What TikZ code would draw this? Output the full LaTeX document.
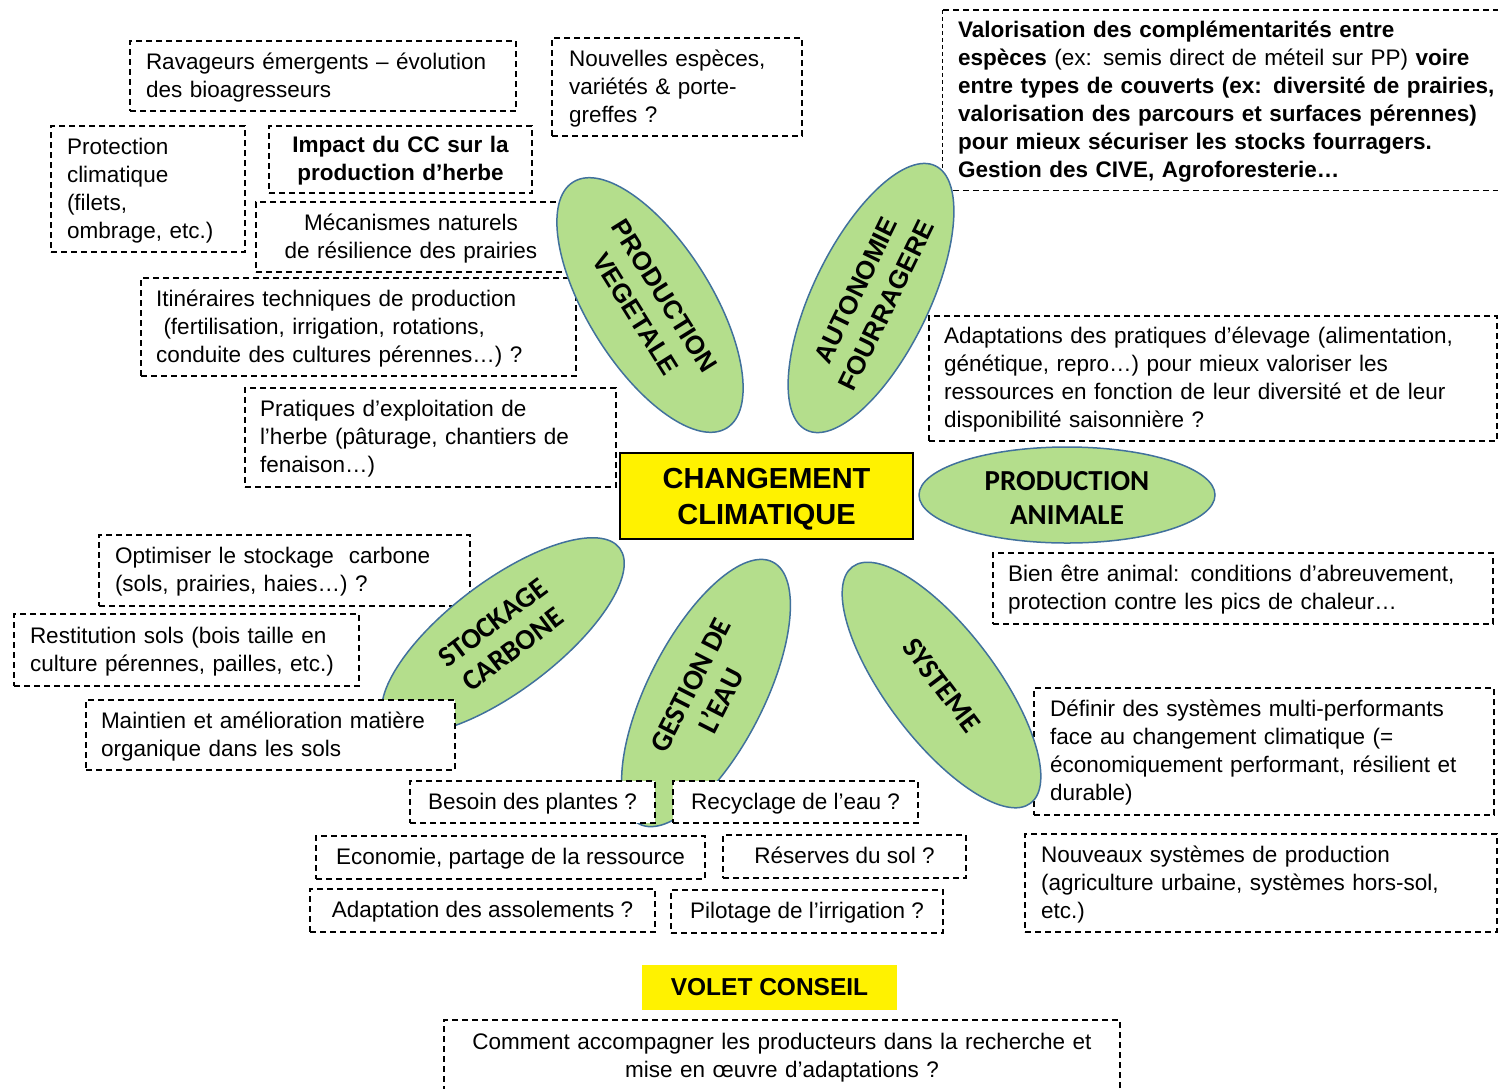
\documentclass[tikz,border=0pt]{standalone}
\usepackage{fontspec}
\setmainfont{Liberation Sans}
\newfontfamily\calfont{Carlito}
\usetikzlibrary{shapes.geometric}
\definecolor{leaf}{RGB}{180,222,140}
\definecolor{rim}{RGB}{65,113,156}
\newcommand\lne[1]{\mbox{#1}}
\tikzset{
 txt/.style={font=\fontsize{22.5}{28}\selectfont},
 struts/.style={execute at begin node={\rule{0pt}{21pt}}, execute at end node={\rule[-7pt]{0pt}{0pt}}},
 dline/.style={draw=black, line width=1.4pt, dash pattern=on 6pt off 4pt},
 dbox/.style={dline, fill=white, inner ysep=0pt, txt, struts},
 lbox/.style={dbox, align=left},
 cbox/.style={dbox, align=center},
 petal/.style={ellipse, draw=rim, line width=1.5pt, fill=leaf, inner sep=0pt, align=center},
 arialpetal/.style={petal, font=\bfseries\fontsize{26}{34}\selectfont},
 calpetal/.style={petal, font=\calfont\bfseries\fontsize{29}{34}\selectfont},
}
\begin{document}
\begin{tikzpicture}[x=1pt,y=-1pt]
\useasboundingbox (0,0) rectangle (1498,1088);

% boxes under the petals
\node[lbox, minimum width=386pt, minimum height=70pt, text width=354pt, inner xsep=16pt] (rav) at (323,76)
 {\lne{Ravageurs émergents – évolution}\\\lne{des bioagresseurs}};
\node[lbox, minimum width=250pt, minimum height=98pt, text width=216pt, inner xsep=17pt] (nouv) at (677,87)
 {\lne{Nouvelles espèces,}\\\lne{variétés \& porte-}\\\lne{greffes ?}};
\node[lbox, minimum width=194pt, minimum height=126pt, text width=162pt, inner xsep=16pt] (prot) at (148,189)
 {\lne{Protection}\\\lne{climatique}\\\lne{(filets,}\\\lne{ombrage, etc.)}};
\node[cbox, minimum width=263pt, minimum height=67pt, text width=253pt, inner xsep=5pt, font=\bfseries\fontsize{22.5}{28}\selectfont] (imp) at (400.5,159.5)
 {\lne{Impact du CC sur la}\\\lne{production d’herbe}};
\node[cbox, minimum width=310pt, minimum height=70pt, text width=300pt, inner xsep=5pt] (meca) at (411,237)
 {\lne{Mécanismes naturels}\\\lne{de résilience des prairies}};
\node[lbox, minimum width=435pt, minimum height=98pt, text width=405pt, inner xsep=15pt] (itin) at (358.5,327)
 {\lne{Itinéraires techniques de production}\\\lne{\ (fertilisation, irrigation, rotations,}\\\lne{conduite des cultures pérennes…) ?}};
\node[lbox, minimum width=371pt, minimum height=99pt, text width=341pt, inner xsep=15pt] (prat) at (430.5,437.5)
 {\lne{Pratiques d’exploitation de}\\\lne{l’herbe (pâturage, chantiers de}\\\lne{fenaison…)}};

\node[fill=white, inner ysep=0pt, txt, struts, align=left, minimum width=577pt, minimum height=180pt, text width=547pt, inner xsep=15pt] (tr) at (1231.5,100)
 {\lne{\textbf{Valorisation des complémentarités entre}}\\
  \lne{\textbf{espèces} (ex: semis direct de méteil sur PP) \textbf{voire}}\\
  \lne{\textbf{entre types de couverts (ex: diversité de prairies,}}\\
  \lne{\textbf{valorisation des parcours et surfaces pérennes)}}\\
  \lne{\textbf{pour mieux sécuriser les stocks fourragers.}}\\
  \lne{\textbf{Gestion des CIVE, Agroforesterie…}}};
\draw[dline] (tr.north west) -- (tr.north east);
\draw[dline] (tr.south west) -- (tr.south east);
\draw[line width=0.7pt, dash pattern=on 4pt off 3pt] (tr.north west) -- (tr.south west);

\node[lbox, minimum width=568pt, minimum height=125pt, text width=538pt, inner xsep=15pt] (adap) at (1213,378.5)
 {\lne{Adaptations des pratiques d’élevage (alimentation,}\\\lne{génétique, repro…) pour mieux valoriser les}\\\lne{ressources en fonction de leur diversité et de leur}\\\lne{disponibilité saisonnière ?}};
\node[lbox, minimum width=500pt, minimum height=71pt, text width=470pt, inner xsep=15pt] (bien) at (1243,588.5)
 {\lne{Bien être animal: conditions d’abreuvement,}\\\lne{protection contre les pics de chaleur…}};
\node[lbox, minimum width=460pt, minimum height=127pt, text width=428pt, inner xsep=16pt] (defi) at (1264,751.5)
 {\lne{Définir des systèmes multi-performants}\\\lne{face au changement climatique (=}\\\lne{économiquement performant, résilient et}\\\lne{durable)}};
\node[lbox, minimum width=472pt, minimum height=98pt, text width=440pt, inner xsep=16pt] (nsys) at (1261,883)
 {\lne{Nouveaux systèmes de production}\\\lne{(agriculture urbaine, systèmes hors-sol,}\\\lne{etc.)}};

\node[lbox, minimum width=371pt, minimum height=71pt, text width=339pt, inner xsep=16pt] (opti) at (284.5,570.5)
 {\lne{Optimiser le stockage \ carbone}\\\lne{(sols, prairies, haies…) ?}};
\node[lbox, minimum width=345pt, minimum height=72pt, text width=313pt, inner xsep=16pt] (rest) at (186.5,650)
 {\lne{Restitution sols (bois taille en}\\\lne{culture pérennes, pailles, etc.)}};

\node[cbox, minimum width=389pt, minimum height=43pt] (econ) at (510.5,857.5) {Economie, partage de la ressource};
\node[cbox, minimum width=243pt, minimum height=43pt] (rese) at (844.5,856.5) {Réserves du sol ?};
\node[cbox, minimum width=345pt, minimum height=43pt] (asso) at (482.5,910.5) {Adaptation des assolements ?};
\node[cbox, minimum width=272pt, minimum height=43pt] (pilo) at (807,911.5) {Pilotage de l’irrigation ?};

\node[fill=yellow, minimum width=255pt, minimum height=45pt, font=\bfseries\fontsize{24.5}{29}\selectfont] (volet) at (769.5,987.5) {VOLET CONSEIL};
\node[cbox, minimum width=676pt, minimum height=72pt, text width=666pt, inner xsep=5pt] (comm) at (782,1056)
 {\lne{Comment accompagner les producteurs dans la recherche et}\\\lne{mise en œuvre d’adaptations ?}};

\node[draw=black, line width=1.5pt, fill=yellow, minimum width=293pt, minimum height=86pt, inner ysep=0pt, align=center,
 text width=283pt, inner xsep=5pt, font=\bfseries\fontsize{29}{36}\selectfont,
 execute at begin node={\rule{0pt}{27pt}}, execute at end node={\rule[-6pt]{0pt}{0pt}}] (cc) at (766.5,496) {CHANGEMENT\\CLIMATIQUE};

% petals
\node[arialpetal, minimum width=290pt, minimum height=124pt, rotate=-58] (veg) at (650,305) {PRODUCTION\\VEGETALE};
\node[arialpetal, minimum width=294pt, minimum height=116pt, rotate=64] (auto) at (871,298) {AUTONOMIE\\FOURRAGERE};
\node[calpetal, minimum width=296pt, minimum height=96pt, text width=200pt,
 execute at begin node={\rule{0pt}{24pt}}] (anim) at (1067,495) {PRODUCTION\\ANIMALE};
\node[calpetal, minimum width=292pt, minimum height=110pt, rotate=37] (stock) at (503,636) {STOCKAGE\\CARBONE};
\node[calpetal, minimum width=294pt, minimum height=116pt, rotate=63] (eau) at (706,693) {GESTION DE\\L’EAU};
\node[calpetal, minimum width=296pt, minimum height=110pt, rotate=-53] (sys) at (941.5,685) {SYSTEME};

% boxes over the petals
\node[lbox, minimum width=369pt, minimum height=70pt, text width=339pt, inner xsep=15pt] (main) at (270.5,735)
 {\lne{Maintien et amélioration matière}\\\lne{organique dans les sols}};
\node[cbox, minimum width=245pt, minimum height=42pt] (bes) at (532.5,802) {Besoin des plantes ?};
\node[cbox, minimum width=245pt, minimum height=42pt] (recy) at (795.5,802) {Recyclage de l’eau ?};
\end{tikzpicture}
\end{document}
